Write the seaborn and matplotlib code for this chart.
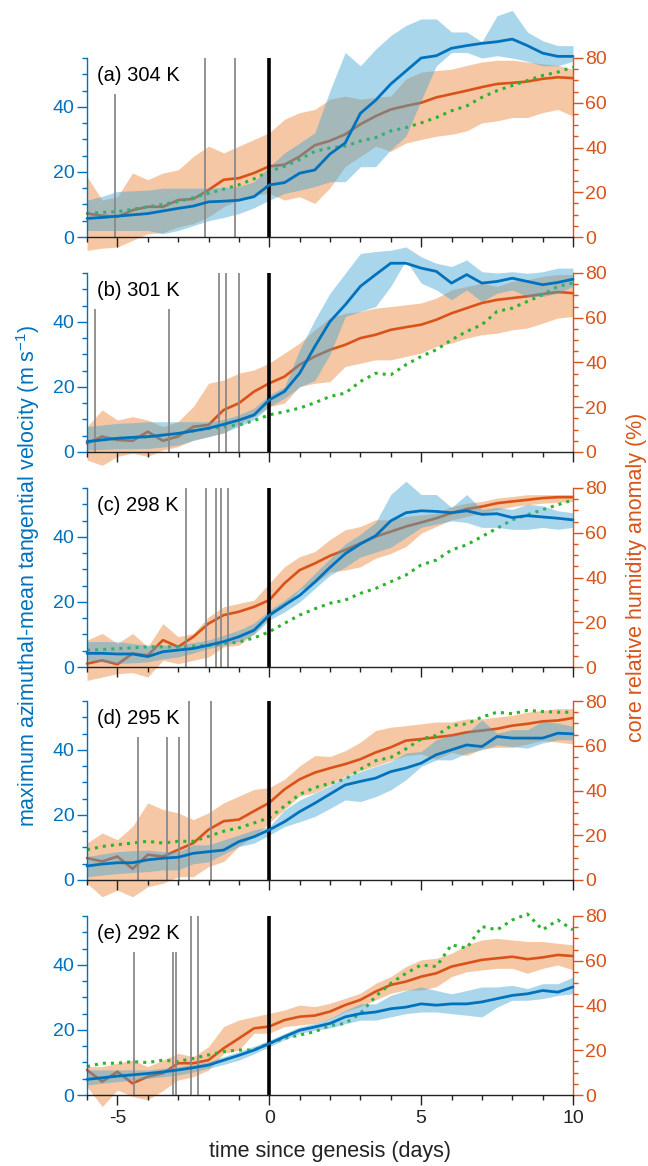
import numpy as np
import matplotlib
matplotlib.use("Agg")
import matplotlib.pyplot as plt
import matplotlib.ticker as mticker
import seaborn as sns

# --- time axis (days since genesis) ---
TIME = np.arange(-6, 10.01, 0.5)

# --- (a) 304 K ---
V_A = [5.7, 6.0, 6.4, 6.8, 7.2, 8.0, 8.8, 9.5, 10.8, 11.0, 11.3, 12.4, 16.0, 16.7, 19.6, 20.6, 25.5,
       28.9, 38.0, 42.0, 47.0, 51.0, 55.0, 55.7, 58.0, 58.8, 59.5, 60.0, 60.8, 58.8, 56.5, 55.5, 55.5]
V_A_LO = [2, 2, 2, 2, 2, 1, 2, 3.5, 5, 6, 7.2, 9, 11.3, 13.4, 14.4, 15.5, 17,
          17, 21.6, 21.6, 26.8, 31, 42, 52.6, 56.7, 56.7, 55, 55.7, 55, 54, 52.6, 52.6, 54]
V_A_HI = [11.3, 12.5, 14, 14.2, 14.4, 15, 15, 15, 15, 15.2, 15.5, 17, 21.6, 25.8, 28.9, 32, 45,
          56.7, 52.6, 57.7, 61.9, 65, 67, 67, 63, 63, 60, 68, 69.6, 63, 60.3, 58.8, 58.8]
RH_A = [10.5, 9.5, 9, 12, 13.5, 13.5, 16.5, 17, 21, 25.6, 26.3, 28.6, 31.6, 32.3, 36, 41, 43,
        45.9, 50.4, 54, 57, 58.6, 60, 62.4, 63.9, 65.4, 67, 68.4, 68.9, 69.5, 70.7, 71.4, 71]
RH_A_LO = [-6, -5, -4.5, -1.5, 1.5, 2, 4.5, 6, 9, 13.5, 16.5, 18.8, 19.5, 16.5, 18, 15, 22,
           31.6, 36, 40.6, 38.3, 42, 43.6, 45, 45.9, 47.4, 51, 51.9, 53.4, 53.4, 55.6, 57, 54]
RH_A_HI = [27, 16.5, 18, 28.6, 25.6, 28.6, 30, 36, 40.6, 37.6, 40.6, 43.6, 46.6, 52.6, 55.6, 57, 61.6,
           63, 61.6, 62.4, 63, 70.7, 73.7, 74.4, 75, 76.7, 78.2, 79, 79, 78.2, 77.4, 76.7, 75]
G_A = [10.5, 11, 11.3, 12.4, 13.5, 14.6, 15.8, 17.6, 19.5, 21.4, 23.3, 26, 29.3, 31.6, 34.6, 38.3, 39.8,
       40.6, 42.9, 44.4, 47.4, 48.9, 51, 53.4, 56.4, 58.6, 62.4, 65.4, 67.7, 69.9, 72.2, 73.7, 75.9]
GEN_A = [-5.08, -2.13, -1.12]
TOP_A = [44, 55, 55]

# --- (b) 301 K ---
V_B = [3.2, 3.7, 4.2, 4.5, 4.7, 5.2, 5.7, 6.5, 7.3, 8.5, 9.8, 11.4, 16, 18.6, 24.2, 32.4, 40.1,
       45.2, 50.9, 54.5, 58, 58, 56.5, 55.5, 51.9, 54.5, 51.9, 52.4, 53.4, 52.4, 51.4, 52.1, 53.1]
V_B_LO = [0.6, 0.8, 1, 1, 1.1, 1.5, 2.2, 3.5, 4.7, 6, 7.8, 10, 13.9, 16.5, 20, 22, 30,
          41.6, 43.2, 44.7, 50.9, 58.9, 51.9, 49.8, 46.8, 49.8, 46.2, 48.8, 49.8, 47.8, 47.8, 48.8, 50.9]
V_B_HI = [7.8, 8.3, 8.8, 9, 9.3, 9.3, 9.3, 9.3, 9.3, 10, 11.4, 13.5, 17.5, 20, 31.4, 40.6, 48.8,
          54.9, 61, 61.6, 62, 63, 60, 58, 57, 59, 55.4, 55, 55.4, 54.9, 55.4, 56.5, 56.5]
RH_B = [3.9, 6.9, 5.4, 5, 9.1, 5, 7, 11.3, 12.1, 18.8, 21.8, 27, 30.7, 33.7, 39, 42.7, 45.7,
        47.9, 50.9, 52.4, 54.6, 55.8, 56.9, 59.1, 62, 64.3, 66.6, 68, 68.8, 69.6, 70.6, 71.5, 71]
RH_B_LO = [-3.6, -6, -2, -0.5, -2, 0.9, 2.4, 5.4, 6.9, 8.4, 12.8, 15.8, 20.3, 21.8, 29.3, 30.7, 31.5,
           38.2, 39.7, 41.2, 41.2, 42.7, 44.2, 47.2, 48.7, 50.9, 52.4, 53.1, 54.6, 55.4, 57.6, 59.9, 60.6]
RH_B_HI = [11.3, 18.8, 14.3, 15.8, 14.3, 11.3, 13.6, 20.3, 30.7, 32.2, 35.2, 36.7, 39.7, 44.2, 48.7, 54.6, 60,
           62, 62.8, 64.3, 65, 65.8, 66.6, 68.8, 72.5, 74, 75.5, 74, 76.3, 77, 78.5, 79.3, 79.3]
G_B = [4.7, 5.4, 6.1, 6.5, 6.8, 7.6, 8.3, 9.4, 10.5, 11.3, 12.1, 14, 16.6, 18, 19.6, 22, 24.8,
       26.3, 31.5, 35.2, 34.5, 39, 42.7, 45.7, 50.1, 53.9, 56.9, 62.8, 64.3, 67.3, 70.3, 74, 75.5]
GEN_B = [-5.74, -3.29, -1.64, -1.42, -1.01]
TOP_B = [44, 44, 55, 55, 55]

# --- (c) 298 K ---
V_C = [4.2, 4.2, 4, 4, 3.2, 4.7, 5.2, 5.7, 6.7, 7.8, 9.3, 11.3, 15.9, 19, 22, 26.1, 30.6,
       34.8, 37.8, 40.3, 44.9, 47.4, 48, 47.8, 47.4, 48, 46.9, 47.1, 45.9, 46.5, 46.1, 45.7, 45.2]
V_C_LO = [2.1, 1.6, 1.1, 1.3, 1.6, 2.5, 3.1, 4.3, 5.7, 6.7, 7.8, 10, 14.4, 16.9, 20, 24.1, 28.2,
          30.7, 33.8, 35.3, 36.8, 39.8, 42.9, 43.9, 44.9, 44.4, 42.9, 42.9, 42.3, 42.3, 42.9, 42.3, 42.9]
V_C_HI = [7.8, 7.8, 7.8, 7.2, 6.7, 6.7, 6.7, 7.5, 8.3, 9.8, 11.3, 13.5, 17.4, 20.5, 24.1, 28.7, 33.3,
          37.8, 40.8, 44.4, 53, 57.1, 53, 53, 49, 53, 48.4, 49, 48.4, 50, 49.5, 48, 47.4]
RH_C = [1.5, 3, 1.2, 6, 5.2, 12, 9, 13.5, 19.4, 23.2, 24.7, 26.9, 29.9, 37.4, 43.3, 46.3, 49.7,
        52.3, 55.3, 58.3, 60.5, 62.8, 64.6, 66.5, 68.8, 70.6, 71.7, 73.2, 74, 74.7, 75.5, 75.9, 75.9]
RH_C_LO = [-6, -4.5, -3, -2.5, -4.5, 3, 1.5, 3, 4.5, 9, 9.7, 15, 22.4, 26.9, 34.4, 37.4, 42.5,
           43.3, 44.8, 48.6, 50.8, 53.8, 59.8, 62.8, 65.8, 67.3, 68.8, 70.3, 71.7, 72.5, 73.2, 73.6, 74]
RH_C_HI = [12, 15, 10.5, 15, 9, 19.4, 13.5, 15, 22.4, 26.9, 28.4, 29.9, 37.4, 44.8, 49.3, 51.6, 57,
           61.3, 62.8, 65.8, 65.8, 67.3, 68, 68.8, 71.7, 73.2, 74, 75.5, 76.2, 77, 77, 77, 77]
G_C = [7.5, 7.8, 8.2, 8.6, 9, 9, 9, 9.3, 9.7, 10.4, 11.2, 13, 15.7, 19.5, 23.2, 26, 28.5,
       29.9, 32.9, 35.1, 38.1, 41.1, 45.6, 47.8, 52.3, 54.6, 58.3, 62, 65.8, 68, 70.3, 72.5, 74.7]
GEN_C = [-2.75, -2.09, -1.75, -1.58, -1.36]
TOP_C = [55, 55, 55, 55, 55]

# --- (d) 295 K ---
V_D = [4.3, 4.9, 5.3, 5.3, 6.2, 6.7, 7, 8.2, 8.7, 9.2, 11.8, 13.3, 15.4, 17.9, 21, 23.6, 26.4,
       29.2, 30.3, 31.3, 33.3, 34.4, 35.9, 38.5, 40, 41.5, 41, 44.1, 43.6, 43.6, 43.6, 45.1, 44.9]
V_D_LO = [1, 1.5, 2, 2.3, 2.6, 3.1, 3.1, 5, 5.6, 8, 10.3, 11.3, 13.8, 16.4, 17.9, 19.5, 22,
          24.6, 24.1, 25.6, 27.7, 30.8, 34.9, 36.9, 36.9, 39, 40, 41.5, 41, 40.5, 42.1, 43.1, 43.1]
V_D_HI = [7.2, 8, 8.7, 9, 9.2, 8.7, 8.7, 10.8, 10.8, 12.3, 13.8, 15.4, 16.4, 21.5, 24.6, 26.7, 29,
          31.8, 33.3, 34.9, 36.4, 39, 39.5, 43.1, 44.6, 45.1, 49.2, 45.1, 46.2, 46.2, 48.7, 48.2, 47.2]
RH_D = [9.8, 8.3, 10.5, 5, 11.3, 10.5, 13.5, 16.5, 22.5, 26.3, 27, 30.8, 34.5, 40.5, 45, 48, 50,
        51.8, 54, 57, 59.3, 62.3, 63, 63.8, 64.6, 66, 66.8, 67.6, 69, 69.8, 70.9, 71.3, 72.4]
RH_D_LO = [-1.5, -7.5, -4.5, -7.5, -3, -1.5, 1.5, 1.5, 6, 8.3, 15, 19.5, 25.5, 31.5, 37.5, 39, 42.5,
           46.5, 48.8, 51, 53.3, 55.6, 56.3, 54, 57, 55.6, 58.6, 59.3, 59.3, 60.8, 62.3, 61.6, 60.8]
RH_D_HI = [16.5, 21, 18, 24, 34.5, 31.5, 30, 27, 30, 34.5, 37.5, 40.5, 41.3, 45, 51, 55.6, 55.2,
           57.8, 61.6, 66.8, 68.3, 69, 69.8, 70.6, 70.6, 72, 72, 72.8, 73.6, 75, 75.8, 76.6, 76.6]
G_D = [13.5, 15, 15.8, 16.5, 17.3, 16.5, 17.3, 17.3, 19.5, 21.8, 23.3, 25.5, 27.8, 33, 38.3, 41.3, 43.2,
       45, 49.5, 53.3, 54.8, 58.6, 63, 64.6, 69, 69.8, 72.8, 75, 74.3, 75.8, 75.3, 75, 75]
GEN_D = [-4.33, -3.38, -2.96, -2.65, -1.92]
TOP_D = [44, 44, 44, 55, 55]

# --- (e) 292 K ---
V_E = [4.8, 5.3, 5.8, 6.2, 6.6, 7.1, 7.7, 8.4, 9.2, 10.7, 12.2, 13.8, 15.8, 17.9, 19.9, 20.9, 22,
       24, 25, 25.5, 26.5, 27, 28, 27.6, 28, 28, 28.6, 29.6, 30.6, 31.1, 32.1, 31.6, 33.2]
V_E_LO = [3.1, 3.6, 4.1, 4.6, 5.1, 5.6, 6.1, 7.1, 8.2, 9.4, 10.7, 12.7, 14.8, 17, 18.9, 19.9, 20.6,
          21.9, 23, 23, 24, 25, 25.5, 25.5, 25, 24.5, 24, 27, 29.1, 29.1, 29.6, 30.6, 31.1]
V_E_HI = [7.7, 7.7, 7.7, 7.7, 7.7, 8.2, 8.7, 9.4, 10.2, 11.8, 13.3, 15, 16.8, 18.9, 20.9, 22, 23.5,
          26, 28, 28, 30.6, 32.1, 33.2, 32.1, 31.1, 32.1, 33.2, 33.2, 33.7, 32.7, 34.2, 34.2, 36.2]
RH_E = [11.2, 6, 10.4, 5.2, 8.2, 9.7, 14.2, 14.2, 15.6, 20.9, 25.3, 29.8, 30.6, 33.5, 35, 35.5, 37.3,
        40.2, 42.5, 46.2, 49.2, 50.7, 52.9, 54.4, 57.4, 58.9, 60.4, 61.1, 61.8, 60.7, 61.5, 62.6, 62.1]
RH_E_LO = [3.7, -5.2, 2.2, -0.7, -2.2, 2, 6.7, 8.2, 11.2, 18.6, 20.1, 27.6, 27.6, 30.6, 31.3, 32, 34,
           37.3, 39.5, 42.5, 45.5, 46.9, 46.9, 48.4, 52.9, 55.1, 55.9, 56.6, 56.6, 54.4, 56.6, 58.1, 55.9]
RH_E_HI = [12.7, 12.7, 14.2, 15.6, 12.7, 15.6, 18.6, 17.1, 21.6, 30.6, 33.5, 35, 36.5, 38, 40.2, 39.5, 41,
           43.2, 45.5, 49.9, 52.9, 57.4, 60.4, 61.1, 63.3, 67.1, 69.3, 70, 69.3, 68.6, 68.6, 67.8, 67.1]
G_E = [12.7, 14.2, 14.2, 14.9, 14.5, 15.6, 15, 16.4, 17.9, 19.4, 20.1, 20.1, 23.1, 25.3, 26.8, 28.3, 31,
       32, 36.5, 44, 49.9, 54.4, 58.1, 57.4, 67.1, 65.6, 75.3, 73.8, 78.2, 80.9, 73.8, 78.2, 73.8]
GEN_E = [-4.46, -3.17, -3.08, -2.58, -2.33]
TOP_E = [44, 44, 44, 55, 55]

PANEL_LABELS = ["(a) 304 K", "(b) 301 K", "(c) 298 K", "(d) 295 K", "(e) 292 K"]

panels = [
    (V_A, V_A_LO, V_A_HI, RH_A, RH_A_LO, RH_A_HI, G_A, GEN_A, TOP_A),
    (V_B, V_B_LO, V_B_HI, RH_B, RH_B_LO, RH_B_HI, G_B, GEN_B, TOP_B),
    (V_C, V_C_LO, V_C_HI, RH_C, RH_C_LO, RH_C_HI, G_C, GEN_C, TOP_C),
    (V_D, V_D_LO, V_D_HI, RH_D, RH_D_LO, RH_D_HI, G_D, GEN_D, TOP_D),
    (V_E, V_E_LO, V_E_HI, RH_E, RH_E_LO, RH_E_HI, G_E, GEN_E, TOP_E),
]

BLUE = "#0072BD"
BLUE_FILL = "#42A6D3"
ORANGE = "#D95319"
ORANGE_FILL = "#E8751E"
GREEN = "#2DB32D"

sns.set_theme(style="ticks")
plt.rcParams["font.family"] = ["Liberation Sans", "DejaVu Sans"]
plt.rcParams["mathtext.fontset"] = "custom"
plt.rcParams["mathtext.rm"] = "Liberation Sans"
plt.rcParams["mathtext.it"] = "Liberation Sans:italic"
plt.rcParams["axes.unicode_minus"] = False

fig = plt.figure(figsize=(6.48, 11.66), dpi=100)

LEFT, WIDTH, HEIGHT = 87 / 648, 486 / 648, 179 / 1166
BOTTOMS_PX = [237, 452, 667, 880, 1095]

for i, (v, vlo, vhi, rh, rhlo, rhhi, g, gen, top) in enumerate(panels):
    ax = fig.add_axes([LEFT, 1 - BOTTOMS_PX[i] / 1166, WIDTH, HEIGHT])
    ax2 = ax.twinx()
    # left axis (velocity) drawn in front of the humidity axis
    ax.set_zorder(ax2.get_zorder() + 1)
    ax.patch.set_visible(False)

    # humidity: band, mean, and dotted line
    ax2.fill_between(TIME, rhlo, rhhi, color=ORANGE_FILL, alpha=0.4, lw=0, clip_on=False, zorder=1)
    sns.lineplot(x=TIME, y=rh, ax=ax2, color=ORANGE, lw=1.9, clip_on=False, zorder=2)
    sns.lineplot(x=TIME, y=g, ax=ax2, color=GREEN, lw=2.2, linestyle=":", clip_on=False, zorder=3)

    # velocity: band and mean
    ax.fill_between(TIME, vlo, vhi, color=BLUE_FILL, alpha=0.45, lw=0, clip_on=False, zorder=1)
    ax.vlines(gen, 0, top, color="#8a8a8a", lw=1.3, zorder=2)
    ax.vlines([0], 0, 55, color="black", lw=2.6, zorder=2.5)
    sns.lineplot(x=TIME, y=v, ax=ax, color=BLUE, lw=2.0, clip_on=False, zorder=3)

    ax.set_xlim(-6, 10)
    ax.set_ylim(0, 55)
    ax2.set_ylim(0, 80)
    ax.set_xticks([-5, 0, 5, 10])
    ax.xaxis.set_minor_locator(mticker.MultipleLocator(1))
    ax.set_yticks([0, 20, 40])
    ax.yaxis.set_minor_locator(mticker.MultipleLocator(5))
    ax2.set_yticks([0, 20, 40, 60, 80])
    ax2.yaxis.set_minor_locator(mticker.MultipleLocator(5))

    for a in (ax, ax2):
        a.set_xlabel("")
        a.set_ylabel("")
        a.spines["top"].set_visible(False)
    ax.spines["right"].set_visible(False)
    ax2.spines["left"].set_visible(False)
    ax2.spines["bottom"].set_visible(False)
    ax.spines["left"].set_color(BLUE)
    ax2.spines["right"].set_color(ORANGE)
    ax.spines["bottom"].set_color("#222222")
    for s in ("left", "bottom"):
        ax.spines[s].set_linewidth(1.0)
    ax2.spines["right"].set_linewidth(1.0)

    ax.tick_params(axis="x", which="major", direction="out", length=7, width=1, colors="#222222",
                   labelsize=14, pad=4)
    ax.tick_params(axis="x", which="minor", direction="out", length=3.5, width=1, colors="#222222")
    ax.tick_params(axis="y", which="major", direction="out", length=7, width=1, colors=BLUE,
                   labelsize=14, pad=2)
    ax.tick_params(axis="y", which="minor", direction="out", length=3.5, width=1, colors=BLUE)
    ax2.tick_params(axis="y", which="major", direction="out", length=7, width=1, colors=ORANGE,
                    labelsize=14, pad=2)
    ax2.tick_params(axis="y", which="minor", direction="out", length=3.5, width=1, colors=ORANGE)
    if i < 4:
        ax.tick_params(axis="x", labelbottom=False)

    ax.text(0.02, 0.905, PANEL_LABELS[i], transform=ax.transAxes, fontsize=14.5,
            ha="left", va="center", color="black", zorder=10)

fig.text(0.043, 1 - 576 / 1166, "maximum azimuthal-mean tangential velocity (m s$^{-1}$)",
         rotation=90, ha="center", va="center", color=BLUE, fontsize=15.5)
fig.text(0.983, 1 - 577 / 1166, "core relative humidity anomaly (%)",
         rotation=90, ha="center", va="center", color=ORANGE, fontsize=15.5)
fig.text(330 / 648, 1 - 1152 / 1166, "time since genesis (days)",
         ha="center", va="center", color="#222222", fontsize=15.5)

fig.savefig("out.png", dpi=100)
